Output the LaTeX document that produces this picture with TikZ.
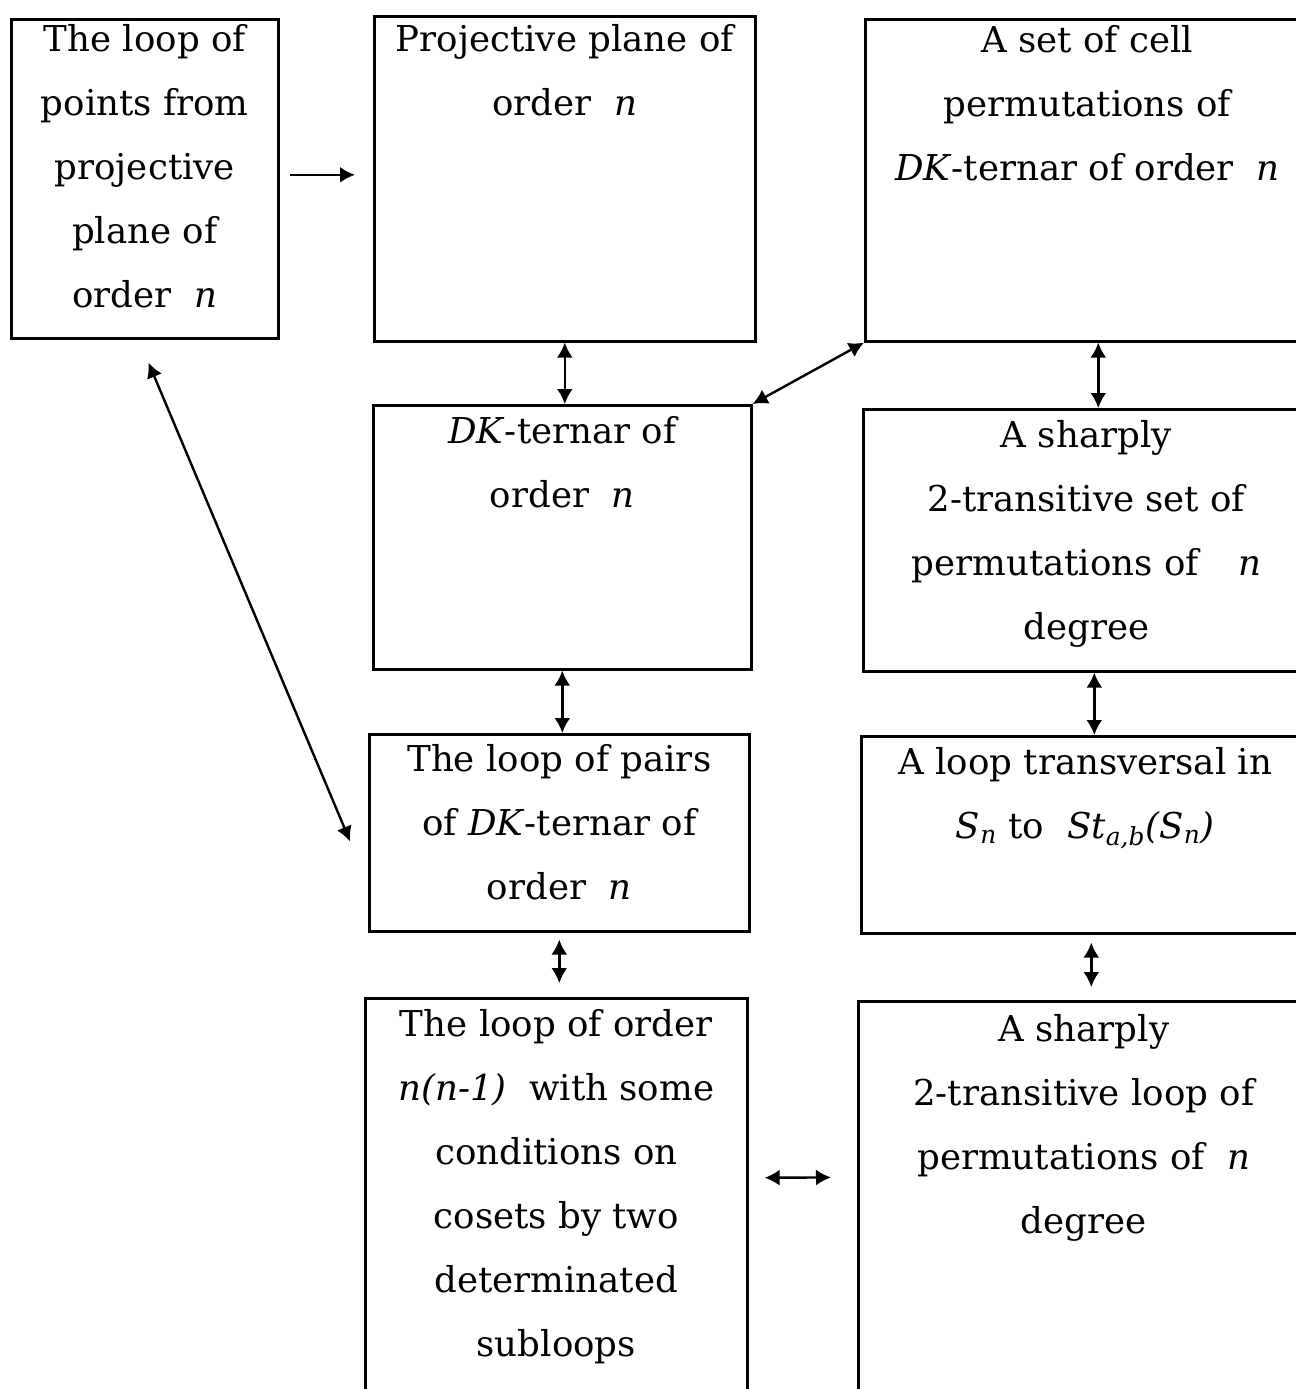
\documentclass[tikz,border=0pt]{standalone}
\usepackage{fontspec}
\setmainfont{DejaVu Serif}
\usetikzlibrary{arrows.meta, positioning}
\newcommand{\blocktext}[4]{\parbox[t][#2][t]{#1}{\centering\rule{0pt}{#3}#4}}

\begin{document}
\begin{tikzpicture}[
        x=0.5pt, y=-0.5pt,
        font=\fontsize{17.8}{32}\selectfont,
        box/.style={draw, line width=1.3pt, inner sep=0pt, anchor=north west},
        arr/.style={-{Latex[length=7.5pt, width=8pt]}, line width=1.2pt},
        dbl/.style={{Latex[length=7.5pt, width=8pt]}-{Latex[length=7.5pt, width=8pt]}, line width=1.2pt}
    ]
        \useasboundingbox (0,0) rectangle (1296,1389);
        \clip (0,0) rectangle (1296,1389);

        \node[box] (pointloop) at (10,18) {\blocktext{133.5pt}{159.5pt}{16pt}{The loop of\\points from\\projective\\plane of\\order~~\textit{n}}};
        \node[box] (plane) at (373,15) {\blocktext{190.5pt}{162.5pt}{17.5pt}{Projective plane of\\order~~\textit{n}}};
        \node[box] (cellperm) at (864,18) {\blocktext{222pt}{161pt}{16.5pt}{A set of cell\\permutations of\\\textit{DK}-ternar of order~~\textit{n}}};
        \node[box] (ternar) at (372,404) {\blocktext{189pt}{132pt}{19pt}{\textit{DK}-ternar of\\order~~\textit{n}}};
        \node[box] (sharpset) at (862,408) {\blocktext{223pt}{131pt}{19pt}{A sharply\\2-transitive set of\\permutations of\hspace{1.1em}\textit{n}\\degree}};
        \node[box] (pairloop) at (368,733) {\blocktext{190pt}{98.5pt}{18.5pt}{The loop of pairs\\of \textit{DK}-ternar of\\order~~\textit{n}}};
        \node[box] (transversal) at (860,735) {\blocktext{224pt}{98.5pt}{19pt}{A loop transversal in\\\textit{S}\textsubscript{\textit{n}} to~~\textit{St}\textsubscript{\textit{a,b}}\textit{(S}\textsubscript{\textit{n}}\textit{)}}};
        \node[box] (orderloop) at (364,997) {\blocktext{191pt}{201.5pt}{19pt}{The loop of order\\\textit{n(n-1)}~~with some\\conditions on\\cosets by two\\determinated\\subloops}};
        \node[box] (sharploop) at (857,1000) {\blocktext{225.5pt}{200pt}{20pt}{A sharply\\2-transitive loop of\\permutations of~~\textit{n}\\degree}};

        \draw[arr, shorten <=5pt, shorten >=9pt] ([yshift=2pt]pointloop.east) -- ([yshift=2pt]plane.west);
        \draw[dbl] (plane.south) -- (plane.south |- ternar.north);
        \draw[dbl] (cellperm.south west) -- (ternar.north east);
        \draw[dbl] ([xshift=5.5pt]cellperm.south) -- ([xshift=5.5pt]cellperm.south |- sharpset.north);
        \draw[dbl] (ternar.south) -- (ternar.south |- pairloop.north);
        \draw[dbl] ([xshift=4pt]sharpset.south) -- ([xshift=4pt]sharpset.south |- transversal.north);
        \draw[dbl, shorten <=12.5pt, shorten >=23pt] ([xshift=-3pt]pointloop.south) -- ([yshift=-25.5pt]pairloop.west);
        \draw[dbl, shorten <=3.5pt, shorten >=7pt] (pairloop.south) -- (pairloop.south |- orderloop.north);
        \draw[dbl, shorten <=4pt, shorten >=6.5pt] ([xshift=3pt]transversal.south) -- ([xshift=3pt]transversal.south |- sharploop.north);
        \draw[dbl, shorten <=8pt, shorten >=13pt] ([yshift=11pt]orderloop.east) -- ([yshift=12pt]sharploop.west);
    \end{tikzpicture}
\end{document}
